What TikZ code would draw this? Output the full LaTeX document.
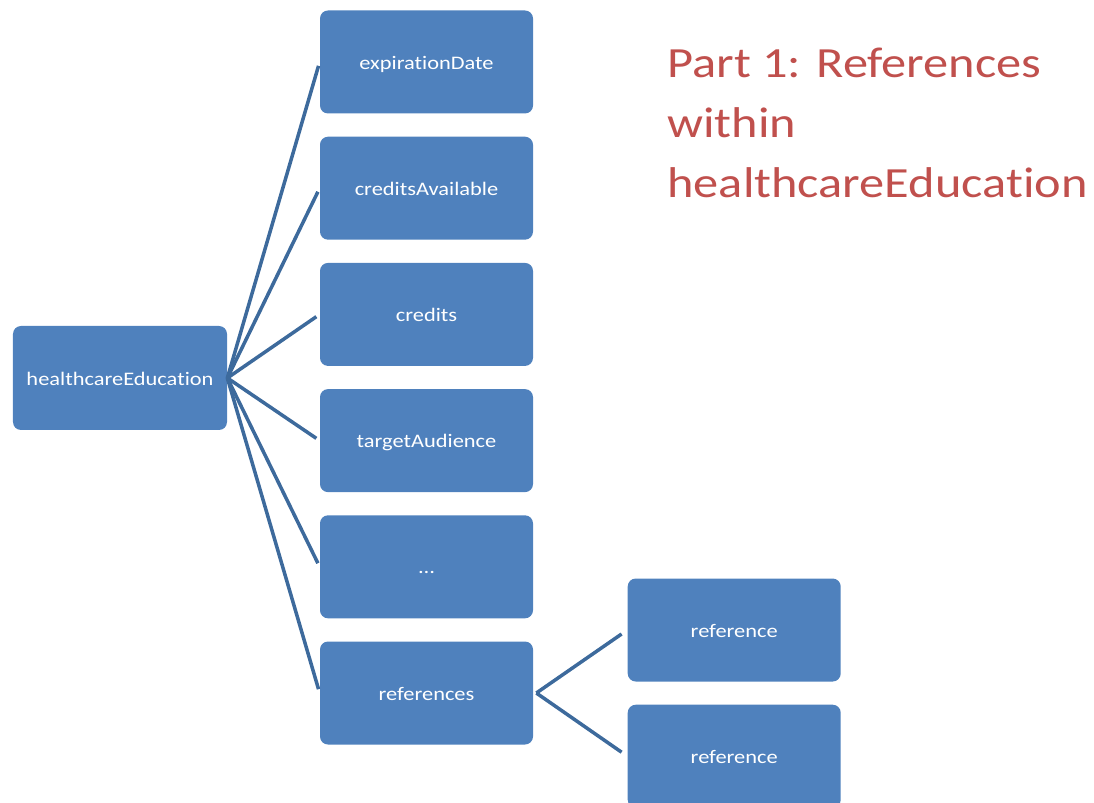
\documentclass[tikz,border=0pt]{standalone}
\usepackage{fontspec}
\setmainfont[Ligatures=NoCommon, FakeStretch=1.17]{Carlito}
\usepackage{tikz}
\usetikzlibrary{positioning}
\definecolor{BoxBlue}{HTML}{4F81BD}
\definecolor{LinkBlue}{HTML}{3D6A9C}
\definecolor{TitleRed}{HTML}{C0504D}
\newcommand{\boxw}{4.26cm}
\newcommand{\boxh}{2.06cm}
\newcommand{\boxgap}{0.45cm}
\newcommand{\colgap}{1.88cm}
\newcommand{\linkgap}{0.08cm}

\begin{document}
\begin{tikzpicture}[
    field/.style={rectangle, rounded corners=0.16cm, fill=BoxBlue, text=white,
      minimum width=\boxw, minimum height=\boxh, inner sep=0pt,
      text height=8pt, text depth=0pt,
      font=\fontsize{10.9}{13}\selectfont},
    link/.style={draw=LinkBlue, line width=2pt, shorten >=\linkgap},
    node distance=\boxgap
  ]
  \useasboundingbox (0,0) rectangle (21.88,-16.06);
  % root
  \node[field, minimum width=4.28cm, minimum height=2.08cm] (hce)
    at (2.4,-7.56) {healthcareEducation};
  % fields of healthcareEducation
  \node[field] (expdate) at (8.53,-1.24) {expirationDate};
  \node[field, below=of expdate] (credavail) {creditsAvailable};
  \node[field, below=of credavail] (credits) {credits};
  \node[field, below=of credits] (audience) {targetAudience};
  \node[field, below=of audience] (more) {…};
  \node[field, below=of more] (refs) {references};
  % single references
  \node[field, right=\colgap of refs, yshift=1.26cm] (refa) {reference};
  \node[field, below=of refa] (refb) {reference};
  \coordinate (refsout) at ([xshift=0.06cm]refs.east);
  \begin{scope}
    \foreach \child in {expdate, credavail, credits, audience, more, refs}
      \draw[link] (hce.east) -- (\child.west);
    \draw[link, shorten >=0.14cm] (refsout) -- (refa.west);
    \draw[link, shorten >=0.14cm] (refsout) -- (refb.west);
  \end{scope}
  % title
  \node[anchor=north west, align=left, inner sep=0pt, text=TitleRed,
    font=\fontsize{24.5}{34.1}\selectfont] (title)
    at (13.34,-0.96) {Part 1: References\\within\\healthcareEducation};
\end{tikzpicture}
\end{document}
